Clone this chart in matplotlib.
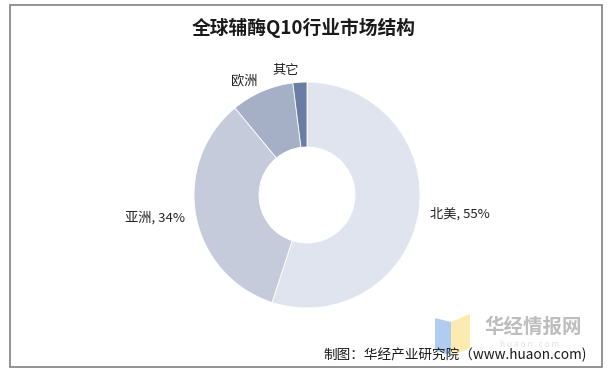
import matplotlib
matplotlib.use("Agg")
import matplotlib.pyplot as plt
from matplotlib.patches import Rectangle, Polygon

plt.rcParams['font.family'] = ['Noto Sans CJK SC', 'DejaVu Sans']

REGIONS = ["北美", "亚洲", "欧洲", "其它"]
SHARES = [55, 34, 9, 2]
LABELS = ["北美, 55%", "亚洲, 34%", "欧洲", "其它"]
COLORS = ["#dfe4ee", "#c5cbdb", "#a5b0c6", "#6a7da2"]

W, H = 607, 378
fig = plt.figure(figsize=(W / 100, H / 100), dpi=100)

# outer gray frame
fig.patches.append(Rectangle((10 / W, 1 - 367 / H), 592 / W, 362 / H,
                             transform=fig.transFigure, fill=False,
                             edgecolor="#8a8a8a", linewidth=1.3))

fig.text(304 / W, 1 - 28 / H, "全球辅酶Q10行业市场结构", ha="center", va="center",
         fontsize=13.5, fontweight="bold", color="#1a1a1a")

# donut: center (307,195), outer radius 113 px
cx, cy, r = 307, 195, 113
ax = fig.add_axes([(cx - r) / W, 1 - (cy + r) / H, 2 * r / W, 2 * r / H])
wedges, texts = ax.pie(SHARES, labels=LABELS, colors=COLORS, startangle=90,
                       counterclock=False, labeldistance=1.1,
                       wedgeprops=dict(width=0.575, linewidth=0.6, edgecolor="white"),
                       textprops=dict(fontsize=9.5, color="#222222"))
ax.set_xlim(-1, 1)
ax.set_ylim(-1, 1)
ax.set_aspect("equal")
ax.axis("off")

# watermark logo
fig.patches.append(Polygon([(435 / W, 1 - 318 / H), (451 / W, 1 - 322 / H),
                            (451 / W, 1 - 356 / H), (435 / W, 1 - 350 / H)],
                           closed=True, transform=fig.transFigure,
                           facecolor="#a8c8f0", edgecolor="none", alpha=0.9))
fig.patches.append(Polygon([(451 / W, 1 - 322 / H), (470 / W, 1 - 314 / H),
                            (470 / W, 1 - 348 / H), (451 / W, 1 - 356 / H)],
                           closed=True, transform=fig.transFigure,
                           facecolor="#fbe9a8", edgecolor="none", alpha=0.9))
fig.text(533 / W, 1 - 327 / H, "华经情报网", ha="center", va="center",
         fontsize=14, fontweight="bold", color="#bdbdbd")
fig.text(530 / W, 1 - 344.5 / H, "h u a o n . c o m", ha="center", va="center",
         fontsize=6, color="#e2e2e2")

fig.text(587 / W, 1 - 355 / H, "制图：华经产业研究院（www.huaon.com)", ha="right",
         va="center", fontsize=9.8, color="#1a1a1a")

fig.savefig("out.png", dpi=100)
